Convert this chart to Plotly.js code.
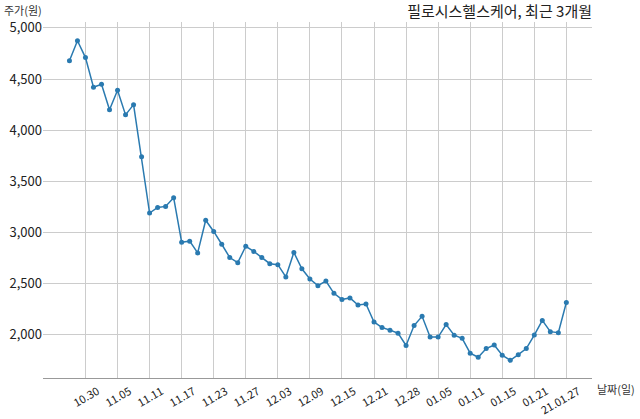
<!DOCTYPE html>
<html>
<head>
<meta charset="utf-8">
<script src="https://cdn.plot.ly/plotly-3.0.1.min.js"></script>
<style>
  html, body { margin: 0; padding: 0; background: #fff; }
  #chart { width: 640px; height: 419px; }
</style>
</head>
<body>
<div id="chart"></div>
<script>
/* ----- data: trading days, 2020.10.28 ~ 2021.01.27 ----- */
var days = [
  '10.28', '10.29', '10.30', '11.02', '11.03', '11.04', '11.05', '11.06', '11.09', '11.10',
  '11.11', '11.12', '11.13', '11.16', '11.17', '11.18', '11.19', '11.20', '11.23', '11.24',
  '11.25', '11.26', '11.27', '11.30', '12.01', '12.02', '12.03', '12.04', '12.07', '12.08',
  '12.09', '12.10', '12.11', '12.14', '12.15', '12.16', '12.17', '12.18', '12.21', '12.22',
  '12.23', '12.24', '12.28', '12.29', '12.30', '01.04', '01.05', '01.06', '01.07', '01.08',
  '01.11', '01.12', '01.13', '01.14', '01.15', '01.18', '01.19', '01.20', '01.21', '01.22',
  '01.25', '01.26', '01.27'
];

var price = [
  4680, 4875, 4710, 4420, 4450, 4200, 4390, 4150, 4250, 3740,
  3190, 3245, 3255, 3340, 2905, 2915, 2800, 3120, 3010, 2885,
  2755, 2705, 2865, 2815, 2755, 2695, 2685, 2565, 2805, 2645,
  2545, 2480, 2525, 2405, 2345, 2360, 2290, 2300, 2125, 2070,
  2045, 2015, 1895, 2090, 2180, 1977, 1977, 2100, 1995, 1965,
  1820, 1780, 1865, 1900, 1800, 1750, 1805, 1865, 1997, 2140,
  2030, 2020, 2315
];

// every fourth trading day gets a label
var tickDays = ['10.30', '11.05', '11.11', '11.17', '11.23', '11.27', '12.03', '12.09',
                '12.15', '12.21', '12.28', '01.05', '01.11', '01.15', '01.21', '01.27'];
var tickLabels = ['10.30', '11.05', '11.11', '11.17', '11.23', '11.27', '12.03', '12.09',
                  '12.15', '12.21', '12.28', '01.05', '01.11', '01.15', '01.21', '21.01.27'];

var yTicks = [2000, 2500, 3000, 3500, 4000, 4500, 5000];

var FONT = '"Noto Sans CJK KR", "Noto Sans", sans-serif';
var GRID = '#cccccc';

/* ----- trace ----- */
var trace = {
  x: days,
  y: price,
  type: 'scatter',
  mode: 'lines+markers',
  line: { color: '#2a7ab0', width: 1.5 },
  marker: { color: '#2a7ab0', size: 5 },
  hoverinfo: 'x+y'
};

var layout = {
  width: 640,
  height: 419,
  showlegend: false,
  paper_bgcolor: '#fff',
  plot_bgcolor: '#fff',
  margin: { l: 43, r: 48, t: 22, b: 41 },
  font: { family: FONT, color: '#222' },
  title: {
    text: '필로시스헬스케어, 최근 3개월',
    font: { family: FONT, size: 15, color: '#222' },
    xref: 'paper', x: 1, xanchor: 'right',
    yref: 'container', y: 0.972, yanchor: 'middle'
  },
  xaxis: {
    type: 'category',
    range: [-3.3, 65.2],
    tickmode: 'array',
    tickvals: tickDays,
    ticktext: tickLabels,
    tickangle: -30,
    ticklabelshift: 12,
    ticklabelstandoff: 2,
    ticks: '',
    tickfont: { family: FONT, size: 11, color: '#222' },
    showgrid: true,
    gridcolor: GRID,
    gridwidth: 1,
    showline: true,
    linecolor: '#999999',
    linewidth: 1,
    zeroline: false
  },
  yaxis: {
    range: [1577, 5058],
    tickmode: 'array',
    tickvals: yTicks,
    tickformat: ',',
    ticks: '',
    tickfont: { family: FONT, size: 13, color: '#222' },
    showgrid: true,
    gridcolor: GRID,
    gridwidth: 1,
    showline: false,
    zeroline: false
  },
  annotations: [
    {
      text: '주가(원)',
      xref: 'paper', yref: 'paper', x: -0.075, y: 1.005,
      xanchor: 'left', yanchor: 'bottom',
      showarrow: false,
      font: { family: FONT, size: 11, color: '#333' }
    },
    {
      text: '날짜(일)',
      xref: 'paper', yref: 'paper', x: 1.005, y: -0.03,
      xanchor: 'left', yanchor: 'middle',
      showarrow: false,
      font: { family: FONT, size: 11, color: '#333' }
    }
  ]
};

Plotly.newPlot('chart', [trace], layout, { displayModeBar: false, staticPlot: true });
</script>
</body>
</html>
